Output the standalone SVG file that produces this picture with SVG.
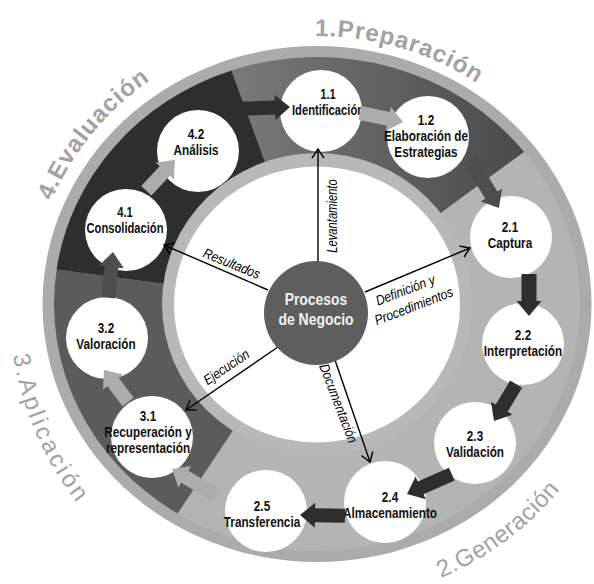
<svg xmlns="http://www.w3.org/2000/svg" width="594" height="584" viewBox="0 0 594 584">
<defs>
<style>
.nt{font-family:"Liberation Sans",Arial,sans-serif;font-weight:bold;font-size:14px;fill:#111;text-anchor:middle}
.ct{font-family:"Liberation Sans",Arial,sans-serif;font-weight:bold;font-size:17px;fill:#f2f2f2;text-anchor:middle}
.lbl{font-family:"Liberation Sans",Arial,sans-serif;font-style:italic;font-size:14px;fill:#000;text-anchor:middle}
.ph{font-family:"Liberation Sans",Arial,sans-serif;font-size:24px;fill:#a2a2a2}
.node{fill:#fff}
.conn{stroke:#000;stroke-width:1.4;fill:none;marker-end:url(#open)}
.arD{fill:#2e2e2e}
.arM{fill:#4d4d4d}
.arL{fill:#acacac}
</style>
<linearGradient id="g1" gradientUnits="userSpaceOnUse" x1="231" y1="0" x2="524" y2="0">
<stop offset="0" stop-color="#7a7a7a"/><stop offset="1" stop-color="#4a4a4a"/>
</linearGradient>
<marker id="open" markerUnits="userSpaceOnUse" markerWidth="20" markerHeight="20" viewBox="-10 -10 20 20" refX="0" refY="0" orient="auto" overflow="visible">
<path d="M-9,-6 L0,0 L-9,6" fill="none" stroke="#000" stroke-width="1.4"/>
</marker>
<path id="pPrep" d="M315,36 A282 267 0 0 1 599 303"/>
<path id="pEval" d="M51.5,201.1 A286 274 0 0 1 317 29"/>
<path id="pApl" d="M13.1,355 A308 319 0 0 0 317 622"/>
<path id="pGen" d="M441,578 A310 300 0 0 0 627 303"/>
</defs>

<g id="ring">
<ellipse cx="317" cy="304" rx="274.5" ry="258" fill="#ababab"/>
<path d="M317,304 L231.4,70.5 A263 247 0 0 1 524.2,151.9 Z" fill="url(#g1)"/>
<path d="M317,304 L524.2,151.9 A263 247 0 0 1 177.6,513.5 Z" fill="#b4b4b4"/>
<path d="M317,304 L177.6,513.5 A263 247 0 0 1 56.6,269.6 Z" fill="#5b5b5b"/>
<path d="M317,304 L56.6,269.6 A263 247 0 0 1 231.4,70.5 Z" fill="#2e2e2e"/>
<ellipse cx="317" cy="304" rx="155" ry="151" fill="#b8b8b8"/>
<ellipse cx="317" cy="304.5" rx="143" ry="138" fill="#fff"/>
</g>

<g id="phases">
<text class="ph" font-weight="bold" letter-spacing="1"><textPath href="#pPrep">1.Preparación</textPath></text>
<text class="ph" font-weight="bold" letter-spacing="1"><textPath href="#pEval">4.Evaluación</textPath></text>
<text class="ph" letter-spacing="3"><textPath href="#pApl">3.Aplicación</textPath></text>
<text class="ph" letter-spacing="0.5"><textPath href="#pGen">2.Generación</textPath></text>
</g>

<g id="n1_1"><circle class="node" cx="321" cy="111" r="41"/>
<text class="nt" transform="translate(328,0) scale(0.8,1)"><tspan x="0" y="99">1.1</tspan><tspan x="0" y="115">Identificación</tspan></text></g>
<g id="n1_2"><circle class="node" cx="428" cy="137" r="41"/>
<text class="nt" transform="translate(426,0) scale(0.84,1)"><tspan x="0" y="125">1.2</tspan><tspan x="0" y="141">Elaboración de</tspan><tspan x="0" y="157">Estrategias</tspan></text></g>
<g id="n2_1"><circle class="node" cx="511" cy="237" r="41"/>
<text class="nt" transform="translate(510,0) scale(0.84,1)"><tspan x="0" y="232">2.1</tspan><tspan x="0" y="248">Captura</tspan></text></g>
<g id="n2_2"><circle class="node" cx="523" cy="344" r="41"/>
<text class="nt" transform="translate(523,0) scale(0.84,1)"><tspan x="0" y="340">2.2</tspan><tspan x="0" y="356">Interpretación</tspan></text></g>
<g id="n2_3"><circle class="node" cx="475" cy="443" r="41"/>
<text class="nt" transform="translate(475,0) scale(0.84,1)"><tspan x="0" y="441">2.3</tspan><tspan x="0" y="457">Validación</tspan></text></g>
<g id="n2_4"><circle class="node" cx="385" cy="502" r="41"/>
<text class="nt" transform="translate(390,0) scale(0.84,1)"><tspan x="0" y="502">2.4</tspan><tspan x="0" y="518">Almacenamiento</tspan></text></g>
<g id="n2_5"><circle class="node" cx="266" cy="511" r="41"/>
<text class="nt" transform="translate(262,0) scale(0.84,1)"><tspan x="0" y="511">2.5</tspan><tspan x="0" y="527">Transferencia</tspan></text></g>
<g id="n3_1"><circle class="node" cx="152" cy="437" r="41"/>
<text class="nt" transform="translate(148,0) scale(0.84,1)"><tspan x="0" y="421">3.1</tspan><tspan x="0" y="437">Recuperación y</tspan><tspan x="0" y="453">representación</tspan></text></g>
<g id="n3_2"><circle class="node" cx="107" cy="338" r="41"/>
<text class="nt" transform="translate(106,0) scale(0.84,1)"><tspan x="0" y="333">3.2</tspan><tspan x="0" y="349">Valoración</tspan></text></g>
<g id="n4_1"><circle class="node" cx="126" cy="230" r="41"/>
<text class="nt" transform="translate(125,0) scale(0.8,1)"><tspan x="0" y="217">4.1</tspan><tspan x="0" y="233">Consolidación</tspan></text></g>
<g id="n4_2"><circle class="node" cx="198" cy="151" r="41"/>
<text class="nt" transform="translate(196,0) scale(0.84,1)"><tspan x="0" y="139">4.2</tspan><tspan x="0" y="155">Análisis</tspan></text></g>

<g id="connectors">
<path class="arD" transform="translate(290,107) rotate(-2)" d="M-50,-7 H-15 V-12.5 L0,0 L-15,12.5 V7 H-50 Z"/>
<path class="arL" transform="translate(403,122) rotate(12)" d="M-44,-7 H-15 V-12.5 L0,0 L-15,12.5 V7 H-44 Z"/>
<path class="arM" transform="translate(499,208) rotate(59)" d="M-56,-7 H-15 V-12.5 L0,0 L-15,12.5 V7 H-56 Z"/>
<path class="arD" transform="translate(529,316) rotate(90)" d="M-42,-7.5 H-15 V-12.5 L0,0 L-15,12.5 V7.5 H-42 Z"/>
<path class="arD" transform="translate(494,421) rotate(121)" d="M-43,-7 H-15 V-12.5 L0,0 L-15,12.5 V7 H-43 Z"/>
<path class="arD" transform="translate(407,494) rotate(156)" d="M-49,-7 H-15 V-12.5 L0,0 L-15,12.5 V7 H-49 Z"/>
<path class="arD" transform="translate(300,515) rotate(181)" d="M-45,-7 H-15 V-12.5 L0,0 L-15,12.5 V7 H-45 Z"/>
<path class="arL" transform="translate(172,469) rotate(211)" d="M-50,-7 H-15 V-12.5 L0,0 L-15,12.5 V7 H-50 Z"/>
<path class="arL" transform="translate(104,370) rotate(233)" d="M-40,-7 H-15 V-12.5 L0,0 L-15,12.5 V7 H-40 Z"/>
<path class="arM" transform="translate(113,252) rotate(-84)" d="M-46,-7 H-15 V-12.5 L0,0 L-15,12.5 V7 H-46 Z"/>
<path class="arL" transform="translate(175,160) rotate(-47)" d="M-42,-7 H-15 V-12.5 L0,0 L-15,12.5 V7 H-42 Z"/>

<path class="conn" d="M318,262 L318,149"/>
<path class="conn" d="M365,292 L470,248"/>
<path class="conn" d="M268,290 L164,245"/>
<path class="conn" d="M278,347 L186,410"/>
<path class="conn" d="M335,360 L370,462"/>
<text class="lbl" transform="translate(337,216) rotate(-90) scale(0.8,1)">Levantamiento</text>
<text class="lbl" transform="translate(230,268) rotate(22) scale(0.86,1)">Resultados</text>
<text class="lbl" transform="translate(407,294.5) rotate(-21) scale(0.86,1)">Definición y</text>
<text class="lbl" transform="translate(415.5,310.5) rotate(-21) scale(0.86,1)">Procedimientos</text>
<text class="lbl" transform="translate(229,371) rotate(-34) scale(0.86,1)">Ejecución</text>
<text class="lbl" transform="translate(334,405) rotate(69) scale(0.86,1)">Documentación</text>
</g>

<g id="center">
<circle cx="316" cy="313" r="52" fill="#5e5e5e"/>
<text class="ct" transform="translate(316,0) scale(0.82,1)"><tspan x="0" y="305">Procesos</tspan><tspan x="0" y="325">de Negocio</tspan></text>
</g>
</svg>
